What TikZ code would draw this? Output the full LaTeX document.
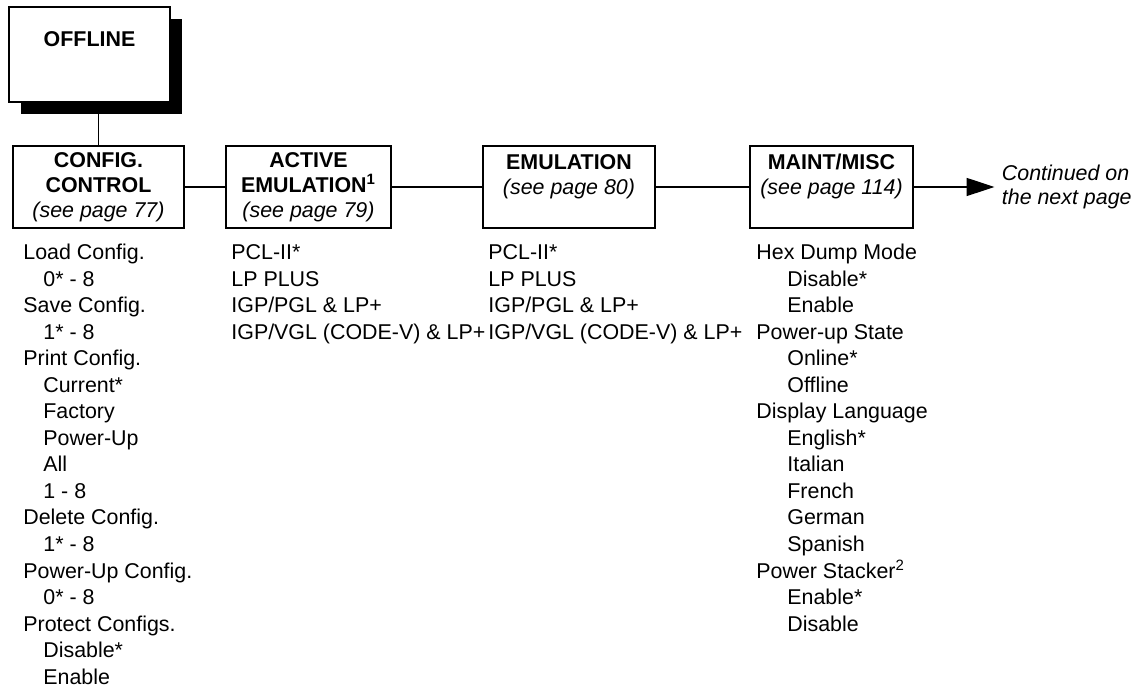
\documentclass[tikz,border=0pt]{standalone}
\usepackage{fontspec}
\setmainfont{Liberation Sans}
\usetikzlibrary{arrows.meta,shadows}

\begin{document}
\begin{tikzpicture}[x=0.5pt, y=-0.5pt, >={Triangle[length=14pt,width=9pt]},
    menubox/.style={draw, line width=1pt, minimum height=41pt, inner sep=0pt, align=center, font=\fontsize{10.7}{12.5}\selectfont},
    link/.style={line width=0.8pt},
    listitem/.style={anchor=base west, inner sep=0pt, font=\fontsize{10.7}{13}\selectfont}]
    \def\rowH{26.55} \def\rowY{259.5}

    \useasboundingbox (0,0) rectangle (1140,688);

    % top box with its black shadow
    \node[menubox, minimum width=80.5pt, minimum height=47.5pt, line width=1.2pt, fill=white, text depth=15.5pt,
          drop shadow={shadow xshift=5.75pt, shadow yshift=-6pt, fill=black, opacity=1}] (offline) at (89.5,54.5) {\textbf{OFFLINE}};

    % menu row
    \node[menubox, minimum width=85.5pt] (config) at (98.5,187) {\textbf{CONFIG.}\\\textbf{CONTROL}\\\textit{(see page 77)}};
    \node[menubox, minimum width=82.5pt] (active) at (308.5,187) {\textbf{ACTIVE}\\\textbf{EMULATION\textsuperscript{1}}\\\textit{(see page 79)}};
    \node[menubox, minimum width=86pt] (emul) at (569,187) {\textbf{EMULATION}\\\textit{(see page 80)}\\\mbox{}};
    \node[menubox, minimum width=81.5pt] (maint) at (831.5,187) {\textbf{MAINT/MISC}\\\textit{(see page 114)}\\\mbox{}};
    \node[anchor=east, align=left, inner sep=3.5pt, font=\fontsize{10.7}{12}\selectfont\itshape] (next) at (1139,187) {Continued on\\the next page};

    \draw[link] (offline.south -| config.north) -- (config.north);
    \draw[link] (config) -- (active);
    \draw[link] (active) -- (emul);
    \draw[link] (emul) -- (maint);
    \draw[link, ->] (maint) -- (next);

    % option lists
    \foreach \dx/\txt [count=\i from 0] in {0/Load Config., 20/0* - 8, 0/Save Config., 20/1* - 8, 0/Print Config., 20/Current*,
        20/Factory, 20/Power-Up, 20/All, 20/1 - 8, 0/Delete Config., 20/1* - 8, 0/Power-Up Config., 20/0* - 8,
        0/Protect Configs., 20/Disable*, 20/Enable}
        \node[listitem] (cfg-\i) at ({23+\dx}, {\rowY+\rowH*\i}) {\txt};

    \foreach \txt [count=\i from 0] in {PCL-II*, LP PLUS, IGP/PGL \& LP+, IGP/VGL (CODE-V) \& LP+}
        \node[listitem] (act-\i) at (231, {\rowY+\rowH*\i}) {\txt};

    \foreach \txt [count=\i from 0] in {PCL-II*, LP PLUS, IGP/PGL \& LP+, IGP/VGL (CODE-V) \& LP+}
        \node[listitem] (emu-\i) at (488, {\rowY+\rowH*\i}) {\txt};

    \foreach \dx/\txt [count=\i from 0] in {0/Hex Dump Mode, 31/Disable*, 31/Enable, 0/Power-up State, 31/Online*, 31/Offline,
        0/Display Language, 31/English*, 31/Italian, 31/French, 31/German, 31/Spanish,
        0/Power Stacker\textsuperscript{2}, 31/Enable*, 31/Disable}
        \node[listitem] (mnt-\i) at ({756+\dx}, {\rowY+\rowH*\i}) {\txt};
\end{tikzpicture}
\end{document}
